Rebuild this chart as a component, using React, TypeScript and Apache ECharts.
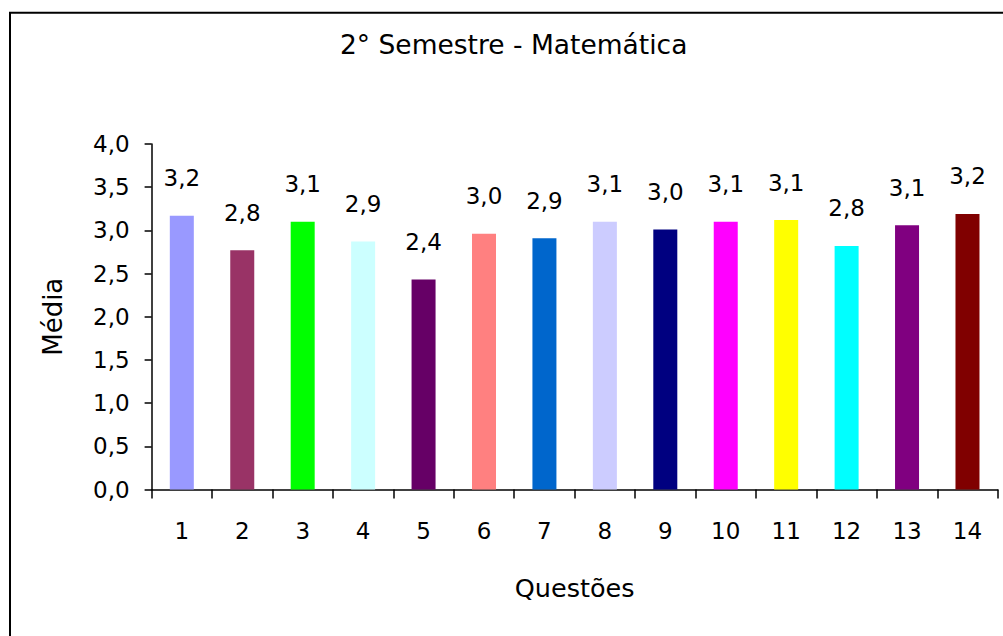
import React, { useEffect, useRef } from "react";
import * as echarts from "echarts";

const categories = ["1", "2", "3", "4", "5", "6", "7", "8", "9", "10", "11", "12", "13", "14"];
const values = [3.17, 2.77, 3.1, 2.87, 2.43, 2.96, 2.91, 3.1, 3.01, 3.1, 3.12, 2.82, 3.06, 3.19];
const barColors = [
  "#9999FF", "#993366", "#00FF00", "#CCFFFF", "#660066", "#FF8080", "#0066CC",
  "#CCCCFF", "#000080", "#FF00FF", "#FFFF00", "#00FFFF", "#800080", "#800000",
];
const titleText = "2° Semestre - Matemática";
const xName = "Questões";
const yName = "Média";

const FONT = "DejaVu Sans";
const fmt = (v: number) => v.toFixed(1).replace(".", ",");

export default function App() {
  const ref = useRef<HTMLDivElement>(null);
  useEffect(() => {
    if (!ref.current) return;
    const chart = echarts.init(ref.current, undefined, { renderer: "svg" });
    chart.setOption({
      animation: false,
      backgroundColor: "#ffffff",
      textStyle: { fontFamily: FONT, color: "#000" },
      title: {
        text: titleText,
        left: 340,
        top: 31,
        padding: 0,
        textStyle: { fontFamily: FONT, fontSize: 26.5, fontWeight: "normal", color: "#000" },
      },
      graphic: [
        {
          type: "rect",
          shape: { x: 10, y: 12.7, width: 1100, height: 800 },
          style: { fill: "none", stroke: "#000", lineWidth: 2 },
          silent: true,
        },
      ],
      grid: { left: 151.6, right: 5.3, top: 144, bottom: 146.5, containLabel: false },
      xAxis: {
        type: "category",
        data: categories,
        name: xName,
        nameLocation: "middle",
        nameGap: 85,
        nameTextStyle: { fontFamily: FONT, fontSize: 25.5, color: "#000" },
        axisLine: { lineStyle: { color: "#000", width: 1.5 } },
        axisTick: { show: true, length: 9, lineStyle: { color: "#000", width: 1.5 } },
        axisLabel: { fontFamily: FONT, fontSize: 23, color: "#000", margin: 30 },
        splitLine: { show: false },
      },
      yAxis: {
        type: "value",
        min: 0,
        max: 4,
        interval: 0.5,
        name: yName,
        nameLocation: "middle",
        nameGap: 86,
        nameRotate: 90,
        nameTextStyle: { fontFamily: FONT, fontSize: 26, color: "#000" },
        axisLine: { show: true, lineStyle: { color: "#000", width: 1.5 } },
        axisTick: { show: true, length: 7, lineStyle: { color: "#000", width: 1.5 } },
        axisLabel: {
          fontFamily: FONT,
          fontSize: 23,
          color: "#000",
          margin: 22,
          formatter: (v: number) => fmt(v),
        },
        splitLine: { show: false },
      },
      series: [
        {
          type: "bar",
          barWidth: 24,
          data: values.map((v, i) => ({ value: v, itemStyle: { color: barColors[i] } })),
          label: {
            show: true,
            position: "top",
            distance: 26,
            fontFamily: FONT,
            fontSize: 23,
            color: "#000",
            formatter: (p: any) => fmt(p.value),
          },
        },
      ],
    });
    return () => chart.dispose();
  }, []);
  return (
    <div
      ref={ref}
      style={{ position: "fixed", left: 0, top: 0, width: 1003, height: 636, background: "#fff" }}
    />
  );
}
